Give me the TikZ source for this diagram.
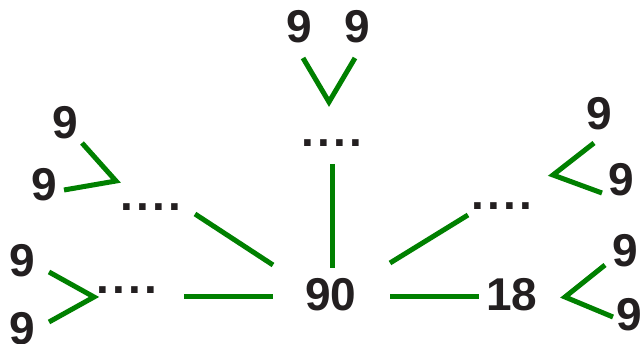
\documentclass[tikz,border=0pt]{standalone}
\usepackage{fontspec}
\setmainfont{Liberation Sans}
\definecolor{txt}{HTML}{231F20}
\definecolor{lg}{HTML}{008000}
\newcommand{\fourdots}{.\kern3pt.\kern3pt.\kern3pt.}
\begin{document}
\begin{tikzpicture}[x=1pt,y=-1pt,
  num/.style={inner sep=0pt,text=txt,font=\fontsize{46}{46}\selectfont\bfseries},
  edge/.style={draw=lg,line width=5pt}]
\useasboundingbox (0,0) rectangle (640,344);
% numbers
\node[num] (n90) at (331,295) {90};
\node[num] (n18) at (512,295) {18};
\node[num] (t1) at (299,27) {9};
\node[num] (t2) at (357,27) {9};
\node[num] (ul1) at (65,123) {9};
\node[num] (ul2) at (44,185) {9};
\node[num] (ll1) at (22,261) {9};
\node[num] (ll2) at (22,329) {9};
\node[num] (ur1) at (599,114) {9};
\node[num] (ur2) at (621,180) {9};
\node[num] (lr1) at (625,251) {9};
\node[num] (lr2) at (629,315) {9};
% dots
\node[num] (dt) at (332,143) {\fourdots};
\node[num] (dul) at (151,207) {\fourdots};
\node[num] (dll) at (127,290) {\fourdots};
\node[num] (dur) at (502,206) {\fourdots};
% connector end points
\coordinate (a1) at (332,164); \coordinate (a2) at (332,268);
\coordinate (b1) at (195,214); \coordinate (b2) at (273,265);
\coordinate (c1) at (184,297); \coordinate (c2) at (273,297);
\coordinate (d1) at (390,263); \coordinate (d2) at (468,215);
\coordinate (e1) at (390,297); \coordinate (e2) at (479,297);
\coordinate (tv1) at (303,58); \coordinate (tva) at (329,102); \coordinate (tv2) at (355,58);
\coordinate (ua1) at (82,143); \coordinate (uaa) at (116,181); \coordinate (ua2) at (64,190);
\coordinate (la1) at (49,272); \coordinate (laa) at (94,297); \coordinate (la2) at (49,322);
\coordinate (ra1) at (594,143); \coordinate (raa) at (553,175); \coordinate (ra2) at (602,193);
\coordinate (sa1) at (605,265); \coordinate (saa) at (565,297); \coordinate (sa2) at (613,317);
% connectors
\draw[edge] (a1) -- (a2);
\draw[edge] (b1) -- (b2);
\draw[edge] (c1) -- (c2);
\draw[edge] (d1) -- (d2);
\draw[edge] (e1) -- (e2);
\draw[edge] (tv1) -- (tva) -- (tv2);
\draw[edge] (ua1) -- (uaa) -- (ua2);
\draw[edge] (la1) -- (laa) -- (la2);
\draw[edge] (ra1) -- (raa) -- (ra2);
\draw[edge] (sa1) -- (saa) -- (sa2);
\end{tikzpicture}
\end{document}
